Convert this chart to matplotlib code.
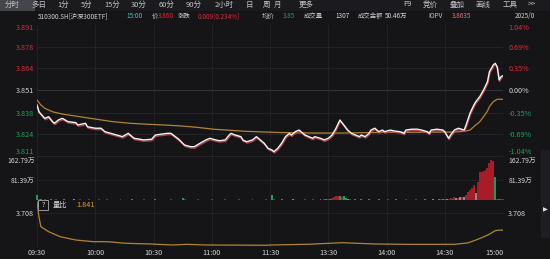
import matplotlib
matplotlib.use('Agg')
import matplotlib.pyplot as plt
import matplotlib.patheffects as pe
from matplotlib.patches import Rectangle

plt.rcParams['font.family'] = ['Noto Sans CJK SC', 'DejaVu Sans']

# ---------------- data ----------------
pre_close = 3.851
pct_ticks = [1.04, 0.69, 0.35, 0.00, -0.35, -0.69, -1.04]
price_labels = ['3.891', '3.878', '3.864', '3.851', '3.838', '3.824', '3.811']
pct_labels = ['1.04%', '0.69%', '0.35%', '0.00%', '-0.35%', '-0.69%', '-1.04%']
label_side = ['up', 'up', 'up', 'flat', 'down', 'down', 'down']

time_pos = [0, 30, 60, 90, 120, 150, 180, 210, 240]
time_labels = ['09:30', '10:00', '10:30', '11:00', '11:30', '13:30', '14:00', '14:30', '15:00']

price_min = [0, 1, 4, 6, 8, 9, 11, 13, 16, 20, 21, 25, 26, 30, 33, 35, 38, 44, 47, 50,
             55, 59, 61, 67, 69, 73, 76, 79, 81, 84, 87, 89, 92, 94, 97, 99, 100, 102, 105, 106,
             108, 111, 113, 115, 117, 119, 121, 122, 124, 126, 128, 130, 131, 133, 135, 136, 138, 140, 142, 143,
             146, 148, 150, 152, 154, 156, 158, 160, 162, 164, 166, 167, 169, 171, 172, 174, 176, 178, 179, 182,
             184, 187, 189, 190, 193, 196, 198, 201, 202, 203, 206, 209, 210, 212, 213, 215, 217, 220, 221, 223,
             225, 226, 228, 230, 232, 233, 235, 236, 237, 238, 239, 240]
price_val = [3.8422, 3.8381, 3.8341, 3.8351, 3.8321, 3.8311, 3.8331, 3.8341, 3.8321, 3.8315,
             3.8301, 3.8311, 3.8290, 3.8281, 3.8281, 3.8260, 3.8250, 3.8230, 3.8250, 3.8220,
             3.8210, 3.8214, 3.8240, 3.8250, 3.8250, 3.8214, 3.8179, 3.8169, 3.8169, 3.8190,
             3.8210, 3.8220, 3.8210, 3.8205, 3.8210, 3.8240, 3.8250, 3.8240, 3.8230, 3.8210,
             3.8199, 3.8210, 3.8230, 3.8210, 3.8190, 3.8159, 3.8149, 3.8139, 3.8159, 3.8190,
             3.8230, 3.8250, 3.8240, 3.8260, 3.8270, 3.8260, 3.8240, 3.8230, 3.8220, 3.8230,
             3.8220, 3.8210, 3.8220, 3.8240, 3.8281, 3.8331, 3.8301, 3.8270, 3.8250, 3.8240,
             3.8230, 3.8240, 3.8230, 3.8250, 3.8270, 3.8281, 3.8260, 3.8270, 3.8260, 3.8270,
             3.8264, 3.8260, 3.8250, 3.8270, 3.8275, 3.8275, 3.8270, 3.8260, 3.8250, 3.8270,
             3.8275, 3.8270, 3.8260, 3.8220, 3.8240, 3.8270, 3.8281, 3.8270, 3.8301, 3.8372,
             3.8422, 3.8442, 3.8472, 3.8513, 3.8563, 3.8624, 3.8665, 3.8675, 3.8654, 3.8574,
             3.8594, 3.8600]

avg_min = [0, 2, 4, 8, 13, 22, 31, 39, 48, 57, 65, 74, 82, 91, 108, 125, 142, 156, 175, 200,
           215, 220, 223, 226, 228, 230, 232, 233, 235, 237, 240]
avg_val = [3.8452, 3.8422, 3.8402, 3.8381, 3.8367, 3.8351, 3.8335, 3.8321, 3.8311, 3.8305,
           3.8301, 3.8295, 3.8287, 3.8275, 3.8262, 3.8255, 3.8252, 3.8252, 3.8255, 3.8257,
           3.8258, 3.8262, 3.8270, 3.8301, 3.8320, 3.8351, 3.8385, 3.8412, 3.8442, 3.8457,
           3.8457]

ratio_min = [0, 1, 2, 6, 12, 20, 29, 36, 46, 58, 70, 77, 87, 118, 121, 140, 157, 174, 191, 215,
             222, 226, 230, 233, 236, 238, 240]
ratio_val = [4.94, 3.30, 2.21, 1.67, 1.12, 0.76, 0.58, 0.58, 0.40, 0.33, 0.22, 0.29, 0.22, 0.19,
             0.22, 0.30, 0.47, 0.33, 0.29, 0.29, 0.45, 0.76, 1.10, 1.40, 1.78, 1.841, 1.841]
ratio_top = 3.708

# per-minute volume (万) and direction (r up / g down / w flat)
vol_rows = [
    [20, 4, 3, 2, 3, 2, 2, 3, 2, 2, 3, 2, 2, 2, 3, 2, 2, 2, 2, 3],
    [2, 2, 3, 2, 2, 2, 2, 3, 2, 2, 2, 2, 3, 2, 2, 2, 4, 2, 2, 2],
    [2, 2, 2, 3, 2, 2, 2, 2, 2, 3, 2, 2, 2, 2, 2, 3, 2, 2, 2, 2],
    [2, 3, 2, 2, 2, 2, 2, 2, 2, 3, 2, 2, 2, 2, 2, 10, 3, 2, 2, 2],
    [2, 2, 2, 3, 2, 2, 2, 2, 2, 2, 3, 2, 2, 2, 2, 2, 2, 3, 2, 2],
    [2, 2, 2, 2, 3, 2, 2, 2, 2, 2, 2, 3, 2, 2, 2, 2, 2, 2, 3, 2],
    [2, 20, 3, 2, 2, 2, 3, 2, 2, 2, 2, 2, 3, 2, 2, 2, 2, 2, 3, 2],
    [2, 2, 3, 2, 2, 2, 3, 2, 4, 3, 5, 3, 8, 13, 16, 17, 18, 13, 15, 7],
    [4, 3, 2, 2, 3, 2, 2, 3, 2, 2, 2, 3, 2, 2, 2, 2, 3, 2, 2, 2],
    [2, 3, 2, 2, 2, 3, 2, 2, 2, 2, 3, 2, 2, 2, 2, 3, 2, 2, 2, 2],
    [3, 2, 2, 2, 3, 2, 2, 3, 4, 3, 4, 3, 5, 7, 6, 13, 10, 9, 12, 11],
    [14, 20, 34, 42, 48, 62, 30, 75, 112, 115, 116, 122, 130, 150, 162.79, 158, 95, 6, 4, 3],
    [5],
]
dir_rows = [
    "grgwrgrgwgrgrwgrgrgw", "rgrgwrgrgrgwrgrgrgwg", "grgrgwrgrgrgwrgrgrgr",
    "rgrgwrgrgrgrwrggrgwr", "grgrwgrgrgrgwrgrgrgr", "rgrgrgwrgrgrgrwgrgrg",
    "wgrgrwgrgrgrwgrgrgrw", "rgrgwrgrrgrgrrrrgrgg", "wrgrgwrgrgrgwrgrgrgr",
    "grgrwgrgrgrgwrgrgrgw", "grgrwgrgrgrwrrgrwrwr", "wrrrrrwrrrrrrrrrgrgr", "r",
]
vol_labels = ['162.79万', '81.39万']
vol_ticks = [162.79, 81.39]

toolbar_items = ['分时', '多日', '1分', '5分', '15分', '30分', '60分', '90分', '2小时', '日', '周', '月', '更多',
                 'F9', '竞价', '叠加', '画线', '工具', '>>']

# ---------------- style ----------------
W, H = 550, 259
BG = '#151518'
RED = '#e3283c'
GREEN = '#1da35a'
WHITE = '#d6d6d6'
GRID = '#26262b'
GOLD = '#b08530'
side_color = {'up': RED, 'flat': WHITE, 'down': GREEN}
bar_color = {'r': '#a81c2a', 'g': '#16a055', 'w': '#8a8a8a'}


def rect(left, top, right, bottom):
    return [left / W, 1 - bottom / H, (right - left) / W, (bottom - top) / H]


def fx(x):
    return x / W


def fy(y):
    return 1 - y / H


fig = plt.figure(figsize=(W / 100, H / 100), dpi=100, facecolor=BG)

X0, X1 = 37, 503
FS = 5.2

# ---------- price panel ----------
ax = fig.add_axes(rect(X0, 24.5, X1, 156.5))
ax.set_facecolor(BG)
tick_pos = [pre_close * (1 + p / 100) for p in pct_ticks]
ax.set_ylim(tick_pos[-1], tick_pos[0])
ax.set_xlim(0, 240)
for i, tp in enumerate(tick_pos):
    c = '#3a3a40' if pct_ticks[i] == 0 else GRID
    ax.axhline(tp, color=c, lw=0.6, zorder=0)
for t in time_pos:
    ax.axvline(t, color=GRID, lw=0.5, zorder=0)
ax.plot(avg_min, avg_val, color=GOLD, lw=0.9, zorder=2)
ax.plot(price_min, price_val, color='#f4f4f4', lw=1.0, zorder=3,
        path_effects=[pe.SimpleLineShadow(offset=(0.4, -1.0), shadow_color='#b8444c', alpha=0.95),
                      pe.Normal()])
ax.set_yticks(tick_pos)
ax.set_yticklabels(price_labels)
ax.set_xticks([])
ax.tick_params(axis='y', length=0, pad=2.2, labelsize=FS)
for lab, s in zip(ax.get_yticklabels(), label_side):
    lab.set_color(side_color[s])
ax.get_yticklabels()[0].set_va('top')
ax.get_yticklabels()[-1].set_va('bottom')
for sp in ax.spines.values():
    sp.set_visible(False)

ax2 = ax.twinx()
ax2.set_ylim(ax.get_ylim())
ax2.set_yticks(tick_pos)
ax2.set_yticklabels(pct_labels)
ax2.tick_params(axis='y', length=0, pad=3.8, labelsize=FS)
for lab, s in zip(ax2.get_yticklabels(), label_side):
    lab.set_color(side_color[s])
ax2.get_yticklabels()[0].set_va('top')
ax2.get_yticklabels()[-1].set_va('bottom')
for sp in ax2.spines.values():
    sp.set_visible(False)

# ---------- volume panel ----------
volume = [v for row in vol_rows for v in row]
direction = ''.join(dir_rows)
axv = fig.add_axes(rect(X0, 157, X1, 200))
axv.set_facecolor(BG)
axv.set_xlim(0, 240)
axv.set_ylim(0, 162.79 * 43 / 40)
for t in time_pos:
    axv.axvline(t, color=GRID, lw=0.5, zorder=0)
axv.axhline(81.39, color=GRID, lw=0.5, zorder=0)
axv.axhline(0, color='#2e2e33', lw=0.6, zorder=0)
for key in 'rgw':
    ms = [m for m, d in enumerate(direction) if d == key]
    vs = [volume[m] for m in ms]
    axv.bar(ms, vs, width=1.0, color=bar_color[key], linewidth=0, zorder=2,
            clip_on=False, antialiased=False)
axv.set_yticks(vol_ticks)
axv.set_yticklabels(vol_labels)
axv.set_xticks([])
axv.tick_params(axis='y', length=0, pad=1.5, labelsize=FS - 0.3, colors=WHITE)
for sp in axv.spines.values():
    sp.set_visible(False)
axv2 = axv.twinx()
axv2.set_ylim(axv.get_ylim())
axv2.set_yticks(vol_ticks)
axv2.set_yticklabels(vol_labels)
axv2.tick_params(axis='y', length=0, pad=3.8, labelsize=FS - 0.3, colors=WHITE)
for sp in axv2.spines.values():
    sp.set_visible(False)

# ---------- volume ratio panel ----------
axr = fig.add_axes(rect(X0, 200, X1, 247))
axr.set_facecolor(BG)
axr.set_xlim(0, 240)
axr.set_ylim(0, ratio_top * 47 / 34)
for t in time_pos:
    axr.axvline(t, color=GRID, lw=0.5, zorder=0)
axr.axhline(ratio_top, color=GRID, lw=0.5, zorder=0)
axr.plot(ratio_min, ratio_val, color=GOLD, lw=0.9, zorder=2)
axr.set_yticks([ratio_top])
axr.set_yticklabels([f'{ratio_top:.3f}'])
axr.tick_params(axis='y', length=0, pad=2.2, labelsize=FS, colors=WHITE)
axr.set_xticks(time_pos)
axr.set_xticklabels(time_labels)
axr.tick_params(axis='x', length=0, pad=1.2, labelsize=FS, colors=WHITE)
xl = axr.get_xticklabels()
xl[-1].set_ha('right')
xl[-1].set_position((241.5, 0))
for sp in axr.spines.values():
    sp.set_visible(False)
axr2 = axr.twinx()
axr2.set_ylim(axr.get_ylim())
axr2.set_yticks([ratio_top])
axr2.set_yticklabels([f'{ratio_top:.3f}'])
axr2.tick_params(axis='y', length=0, pad=3.8, labelsize=FS, colors=WHITE)
for sp in axr2.spines.values():
    sp.set_visible(False)

# ratio legend
fig.patches.append(Rectangle((fx(38), fy(210)), 10 / W, 10 / H, transform=fig.transFigure,
                             facecolor=BG, edgecolor='#9a9a9a', lw=0.7))
fig.text(fx(43), fy(205), '?', color=WHITE, fontsize=FS, ha='center', va='center')
fig.text(fx(53), fy(205), '量比', color=WHITE, fontsize=FS, ha='left', va='center')
fig.text(fx(76), fy(205), f'{ratio_val[-1]:.3f}', color='#e2a52a', fontsize=FS, ha='left', va='center')

# ---------- toolbar ----------
fig.patches.append(Rectangle((0, fy(11)), 1, 11 / H, transform=fig.transFigure,
                             facecolor='#1b1b1f', edgecolor='none'))
fig.patches.append(Rectangle((0, fy(11)), 35 / W, 11 / H, transform=fig.transFigure,
                             facecolor='#45454c', edgecolor='none'))
tb_x = [12.5, 38.5, 63, 87, 112, 139, 166.5, 194, 224, 249, 266, 278, 306,
        407, 430, 457, 483, 510, 532]
for name, x in zip(toolbar_items, tb_x):
    fig.text(fx(x), fy(4.5), name, color='#c4c4c4', fontsize=5.4, ha='center', va='center')

# ---------- info line ----------
info = [
    (38, '510300.SH[沪深300ETF]', '#d0d0d0'),
    (126, '15:00', '#3cc6c6'),
    (152, '价', '#c8c8c8'),
    (158, '3.860', RED),
    (178, '涨跌', '#c8c8c8'),
    (198, '0.009[0.234%]', RED),
    (262, '均价', '#c8c8c8'),
    (283, '3.85', GREEN),
    (304, '成交量', '#c8c8c8'),
    (335, '1307', '#d8d8d8'),
    (358, '成交金额', '#c8c8c8'),
    (385, '50.46万', '#d8d8d8'),
    (428, 'IOPV', '#c8c8c8'),
    (452, '3.8635', '#e07a7a'),
    (515, '2025/0', '#d0d0d0'),
]
for x, s, c in info:
    fig.text(fx(x), fy(16), s, color=c, fontsize=4.6, ha='left', va='center')

# right scroll strip
fig.patches.append(Rectangle((fx(541), fy(238)), 9 / W, 88 / H, transform=fig.transFigure,
                             facecolor='#1e1e22', edgecolor='none'))
fig.text(fx(545.5), fy(210), '▶', color='#e0e0e0', fontsize=4.5, ha='center', va='center',
         family='DejaVu Sans')

fig.savefig('out.png', dpi=100, facecolor=BG)
